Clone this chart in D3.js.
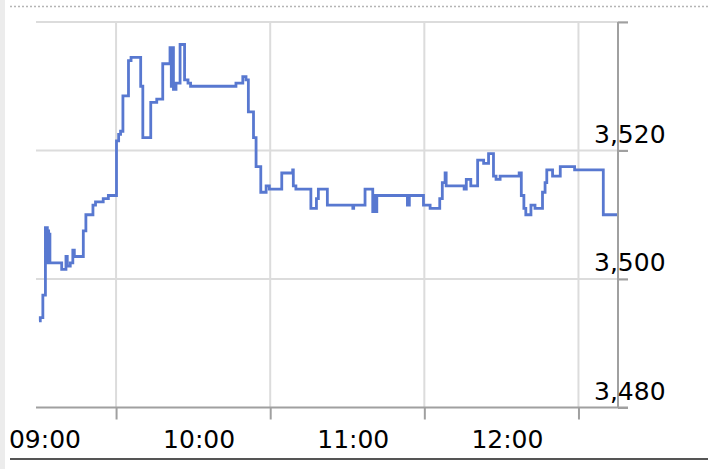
<!DOCTYPE html>
<html>
<head>
<meta charset="utf-8">
<script src="https://d3js.org/d3.v7.min.js"></script>
<style>
  body { margin: 0; background: #fff; }
  text { font-family: "DejaVu Sans", Verdana, sans-serif; }
</style>
</head>
<body>
<div id="chart"></div>
<script>
// Price data (time of trade, price)
var times = [
  "09:00:00", "09:00:30", "09:01:30", "09:02:30", "09:02:45", "09:03:00",
  "09:03:15", "09:03:30", "09:03:45", "09:04:00", "09:04:15", "09:04:30",
  "09:08:50", "09:10:30", "09:11:00",
  "09:12:10", "09:13:10", "09:13:45", "09:17:15", "09:18:15", "09:21:00",
  "09:22:00", "09:25:00", "09:27:00", "09:30:10", "09:31:00", "09:31:45",
  "09:32:40", "09:34:50", "09:35:50", "09:39:35", "09:40:25", "09:43:30",
  "09:45:50", "09:48:10", "09:51:00", "09:51:30", "09:51:50", "09:52:20",
  "09:53:20", "09:54:55", "09:56:40", "09:58:00", "09:59:00", "10:16:40",
  "10:19:20", "10:20:35", "10:21:30", "10:23:30", "10:24:30", "10:26:20",
  "10:28:25", "10:29:40", "10:34:30", "10:38:45", "10:39:00", "10:40:00",
  "10:45:50", "10:48:00", "10:48:45", "10:52:15", "11:02:10", "11:02:30",
  "11:06:55", "11:09:55", "11:10:30", "11:10:50", "11:11:30", "11:23:25",
  "11:24:10", "11:29:40", "11:32:15", "11:36:00", "11:37:00", "11:38:05",
  "11:38:30", "11:45:30", "11:46:20", "11:48:05", "11:50:45", "11:53:05",
  "11:55:00", "11:56:55", "11:57:55", "11:59:30", "12:06:55", "12:07:45",
  "12:08:45", "12:09:30", "12:11:30", "12:13:05", "12:16:00", "12:17:00",
  "12:17:40", "12:19:55", "12:22:55", "12:28:30", "12:39:40", "12:45:00"
];
var prices = [
  3493.5, 3494, 3497.5, 3508, 3502.5, 3508,
  3502.5, 3507.5, 3502.5, 3507, 3502.5, 3502.5,
  3501.5, 3503.5, 3502,
  3502.5, 3504.5, 3503.5, 3507.5, 3510, 3511.5,
  3512, 3512.5, 3513, 3521.5, 3522.5, 3523,
  3528.5, 3534, 3534.5, 3530, 3522, 3527.5,
  3528, 3533.5, 3536, 3530, 3536, 3529.5,
  3530.5, 3536.5, 3531, 3530.5, 3530, 3530.5,
  3531.5, 3531, 3526, 3522, 3517.5, 3513.5,
  3514.5, 3514, 3516.5, 3517, 3514.5, 3514,
  3511, 3512.5, 3514, 3511.5, 3511, 3511.5,
  3514, 3510.5, 3513, 3510.5, 3513, 3511.5,
  3513, 3511.5, 3511, 3512.5, 3515, 3516.5,
  3514.5, 3514, 3515.5, 3514.5, 3518.5, 3518,
  3519.5, 3516, 3515.5, 3516, 3516.5, 3513,
  3511, 3510, 3511.5, 3511, 3513.5, 3515,
  3517, 3516, 3517.5, 3517, 3510, 3510
];

// Axis ticks
var gridTimes = ["09:30", "10:30", "11:30", "12:30"];
var labelTimes = ["09:00", "10:00", "11:00", "12:00"];
var yTicks = [3480, 3500, 3520, 3540];
var yLabels = [3480, 3500, 3520];

var svgWidth = 716;
var svgHeight = 469;

var parseTime = d3.timeParse("%H:%M:%S");
var parseHour = d3.timeParse("%H:%M");

var data = times.map(function(t, i) {
  return { time: parseTime(t), price: prices[i] };
});

var svg = d3.select("#chart")
  .append("svg")
  .attr("width", svgWidth)
  .attr("height", svgHeight);

// Light gray strip on the left edge
svg.append("rect")
  .attr("x", 0)
  .attr("y", 0)
  .attr("width", 5)
  .attr("height", svgHeight)
  .attr("fill", "#ececec");

// Dotted line at the top
svg.append("line")
  .attr("x1", 10).attr("x2", 710)
  .attr("y1", 6.5).attr("y2", 6.5)
  .attr("stroke", "#b5b5b5")
  .attr("stroke-width", 1.5)
  .attr("stroke-dasharray", "2,2");

// Scales
var xScale = d3.scaleTime()
  .domain([parseTime("09:00:00"), parseTime("12:45:00")])
  .range([39, 617]);

var yScale = d3.scaleLinear()
  .domain([3480, 3540])
  .range([407.5, 22]);

var plotLeft = 36;
var axisX = 618;

// Horizontal gridlines
svg.append("g")
  .selectAll("line")
  .data(yTicks.slice(1))
  .enter()
  .append("line")
  .attr("x1", plotLeft)
  .attr("x2", axisX + 10)
  .attr("y1", d => yScale(d))
  .attr("y2", d => yScale(d))
  .attr("stroke", "#dcdcdc")
  .attr("stroke-width", 2);

// Vertical gridlines (half hours)
svg.append("g")
  .selectAll("line")
  .data(gridTimes)
  .enter()
  .append("line")
  .attr("x1", d => xScale(parseHour(d)))
  .attr("x2", d => xScale(parseHour(d)))
  .attr("y1", yScale(3540))
  .attr("y2", yScale(3480))
  .attr("stroke", "#dcdcdc")
  .attr("stroke-width", 2);

// Price line
var drawLine = d3.line()
  .x(d => xScale(d.time))
  .y(d => yScale(d.price))
  .curve(d3.curveStepAfter);

svg.append("path")
  .attr("d", drawLine(data))
  .attr("fill", "none")
  .attr("stroke", "#5878d0")
  .attr("stroke-width", 2.8);

// Bottom axis with ticks at half hours
var bottomAxis = d3.axisBottom(xScale)
  .tickValues(gridTimes.map(parseHour))
  .tickSize(12)
  .tickFormat("");

var xAxisGroup = svg.append("g")
  .attr("transform", "translate(0," + yScale(3480) + ")")
  .call(bottomAxis);
xAxisGroup.select(".domain")
  .attr("d", "M" + plotLeft + ",0H" + (axisX + 10));
xAxisGroup.selectAll("path, line")
  .attr("stroke", "#a0a0a0")
  .attr("stroke-width", 2);

// Hour labels
svg.append("g")
  .selectAll("text")
  .data(labelTimes)
  .enter()
  .append("text")
  .attr("x", d => xScale(parseHour(d)) + 6)
  .attr("y", 448)
  .attr("text-anchor", "middle")
  .attr("font-size", 25)
  .attr("fill", "#000")
  .text(d => d);

// Right axis
var rightAxis = d3.axisRight(yScale)
  .tickValues(yTicks)
  .tickSize(10)
  .tickFormat("");

var yAxisGroup = svg.append("g")
  .attr("transform", "translate(" + axisX + ",0)")
  .call(rightAxis);
yAxisGroup.select(".domain")
  .attr("d", "M0," + yScale(3540) + "V" + yScale(3480));
yAxisGroup.selectAll("path, line")
  .attr("stroke", "#a0a0a0")
  .attr("stroke-width", 2);

// Price labels sit above their gridline
svg.append("g")
  .selectAll("text")
  .data(yLabels)
  .enter()
  .append("text")
  .attr("x", 594)
  .attr("y", d => yScale(d) - 8)
  .attr("font-size", 25)
  .attr("fill", "#000")
  .text(d => d3.format(",")(d));

// Bottom border
svg.append("line")
  .attr("x1", 10).attr("x2", 708)
  .attr("y1", 459).attr("y2", 459)
  .attr("stroke", "#555")
  .attr("stroke-width", 2);
</script>
</body>
</html>
